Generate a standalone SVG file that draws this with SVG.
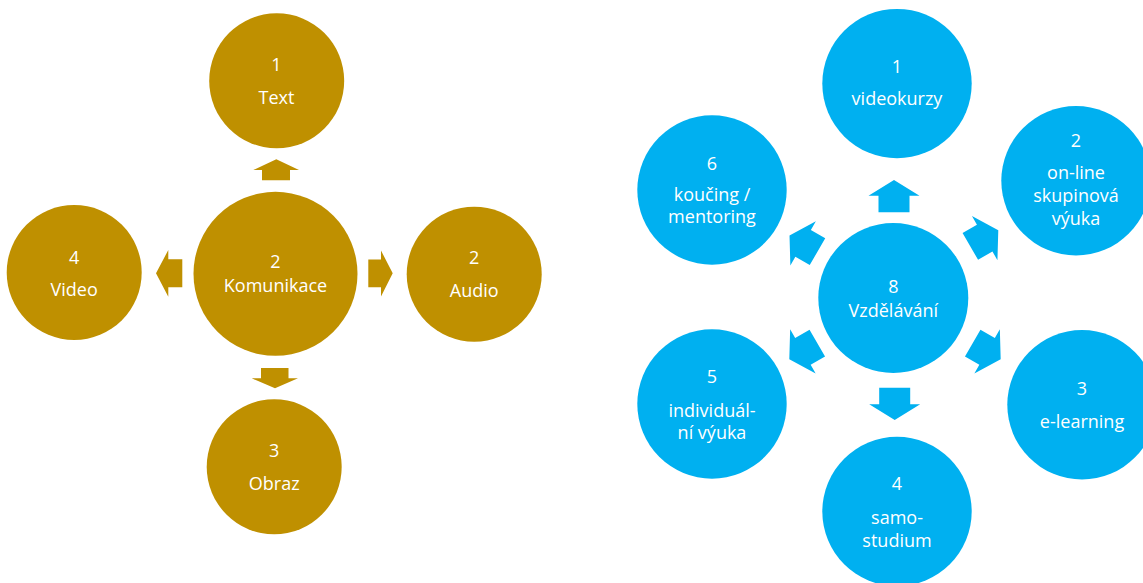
<svg xmlns="http://www.w3.org/2000/svg" width="1143" height="583" viewBox="0 0 1143 583">
<defs>
<style>
.g{fill:#BF9000}
.b{fill:#00B0F0}
text{font-family:"Open Sans","Liberation Sans",sans-serif;font-size:18px;fill:#FFFFFF;text-anchor:middle}
</style>
<path id="arr" d="M-15.5,16.15 L-15.5,-0.45 L-25.5,-0.45 L0,-16.15 L25.5,-0.45 L15.5,-0.45 L15.5,16.15 Z"/>
</defs>
<rect width="1143" height="583" fill="#FFFFFF"/>
<g id="connectors">
<polygon class="g" points="262,180.3 262,170 253.3,170 276.3,159.3 299,170 290,170 290,180.3"/>
<polygon class="g" points="182.3,259.3 168.3,259.3 168.3,250 156,273.3 168.3,296.7 168.3,287.3 182.3,287.3"/>
<polygon class="g" points="368.3,259.5 381,259.5 381,250.5 392.7,273.3 381,296.5 381,287.3 368.3,287.3"/>
<polygon class="g" points="261,368 288.5,368 288.5,378.3 298,378.3 275,388.3 251.7,378.3 261,378.3"/>
<use href="#arr" class="b" transform="translate(894,196.2)"/>
<use href="#arr" class="b" transform="translate(894.7,403.8) rotate(180)"/>
<use href="#arr" class="b" transform="translate(984.3,238.3) rotate(60)"/>
<use href="#arr" class="b" transform="translate(986.7,351.2) rotate(120)"/>
<use href="#arr" class="b" transform="translate(803.3,351.2) rotate(-120)"/>
<use href="#arr" class="b" transform="translate(803.5,243.6) rotate(-60)"/>
</g>
<g id="komunikace">
<circle class="g" cx="275.5" cy="273.8" r="82"/>
<text x="275.5" y="268">2</text>
<text x="275.5" y="292">Komunikace</text>
</g>
<g id="text-node">
<circle class="g" cx="276.7" cy="80.8" r="67.5"/>
<text x="276.5" y="71">1</text>
<text x="276.5" y="104">Text</text>
</g>
<g id="video-node">
<circle class="g" cx="74.2" cy="272.5" r="67.5"/>
<text x="74.2" y="264">4</text>
<text x="74.2" y="295.7">Video</text>
</g>
<g id="audio-node">
<circle class="g" cx="474.2" cy="274.2" r="67.5"/>
<text x="474.2" y="264.3">2</text>
<text x="474.2" y="297.3">Audio</text>
</g>
<g id="obraz-node">
<circle class="g" cx="274.2" cy="466.8" r="67.5"/>
<text x="274.2" y="457.3">3</text>
<text x="274.2" y="490">Obraz</text>
</g>
<g id="vzdelavani">
<circle class="b" cx="893.3" cy="298" r="75"/>
<text x="893.3" y="292.7">8</text>
<text x="893.3" y="316.7">Vzdělávání</text>
</g>
<g id="videokurzy">
<circle class="b" cx="897" cy="83.6" r="74.7"/>
<text x="897" y="73.3">1</text>
<text x="897" y="105">videokurzy</text>
</g>
<g id="online">
<circle class="b" cx="1076" cy="180.8" r="74.7"/>
<text x="1076" y="147">2</text>
<text x="1076" y="179.3">on-line</text>
<text x="1076" y="201.7">skupinová</text>
<text x="1076" y="224.5">výuka</text>
</g>
<g id="elearning">
<circle class="b" cx="1082" cy="404.8" r="74.7"/>
<text x="1082" y="394.8">3</text>
<text x="1082" y="427.5">e-learning</text>
</g>
<g id="samostudium">
<circle class="b" cx="897" cy="511.5" r="74.7"/>
<text x="897" y="490">4</text>
<text x="897" y="523.5">samo-</text>
<text x="897" y="546.5">studium</text>
</g>
<g id="individualni">
<circle class="b" cx="712" cy="404" r="74.7"/>
<text x="712" y="382.7">5</text>
<text x="712" y="416.7">individuál-</text>
<text x="712" y="438.5">ní výuka</text>
</g>
<g id="koucing">
<circle class="b" cx="712" cy="190" r="74.7"/>
<text x="712" y="170">6</text>
<text x="712" y="200.5">koučing /</text>
<text x="712" y="223.3">mentoring</text>
</g>
</svg>
